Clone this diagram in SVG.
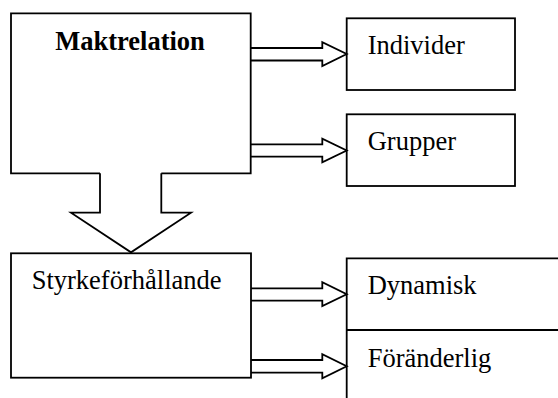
<svg xmlns="http://www.w3.org/2000/svg" width="558" height="398" viewBox="0 0 558 398">
<style>
.box{fill:none;stroke:#000;stroke-width:1.8;stroke-linejoin:miter}
.arr{fill:#fff;stroke:#000;stroke-width:1.8;stroke-linejoin:miter}
.t{font-family:"Liberation Serif","Times New Roman",serif;font-size:26.5px;fill:#000}
.b{font-weight:bold;text-anchor:middle}
</style>
<rect width="558" height="398" fill="#fff"/>
<g id="connectors">
<path class="arr" d="M100,173.3 V212.7 H71 L131,252.3 L191,212.7 H161.3 V173.3"/>
<path class="arr" d="M250.7,48 H322.3 V42.3 L346.7,54 L322.3,66 V60.5 H250.7"/>
<path class="arr" d="M250.7,144.3 H322.3 V138.7 L346.7,150.5 L322.3,162.3 V156.7 H250.7"/>
<path class="arr" d="M251,288.3 H322.3 V282.3 L346.7,294.3 L322.3,306 V300.7 H251"/>
<path class="arr" d="M251,360 H322.3 V354.3 L346.7,366.3 L322.3,378.3 V372.7 H251"/>
</g>
<g id="maktrelation">
<path class="box" d="M100,173.3 H11 V13.3 H250.7 V173.3 H161.3"/>
<text class="t b" x="130" y="50">Maktrelation</text>
</g>
<g id="individer">
<rect class="box" x="346.7" y="18.3" width="168.3" height="71.7"/>
<text class="t" x="367.7" y="54">Individer</text>
</g>
<g id="grupper">
<rect class="box" x="346.7" y="114.3" width="168.3" height="71.7"/>
<text class="t" x="367.7" y="150">Grupper</text>
</g>
<g id="styrkeforhallande">
<rect class="box" x="11" y="253.3" width="240" height="124.4"/>
<text class="t" x="31.7" y="289.3">Styrkeförhållande</text>
</g>
<g id="dynamisk">
<path class="box" d="M560,258.3 H346.7 V400 M346.7,330 H560"/>
<text class="t" x="367.7" y="294">Dynamisk</text>
</g>
<g id="foranderlig">
<text class="t" x="367.7" y="366.7">Föränderlig</text>
</g>
</svg>
